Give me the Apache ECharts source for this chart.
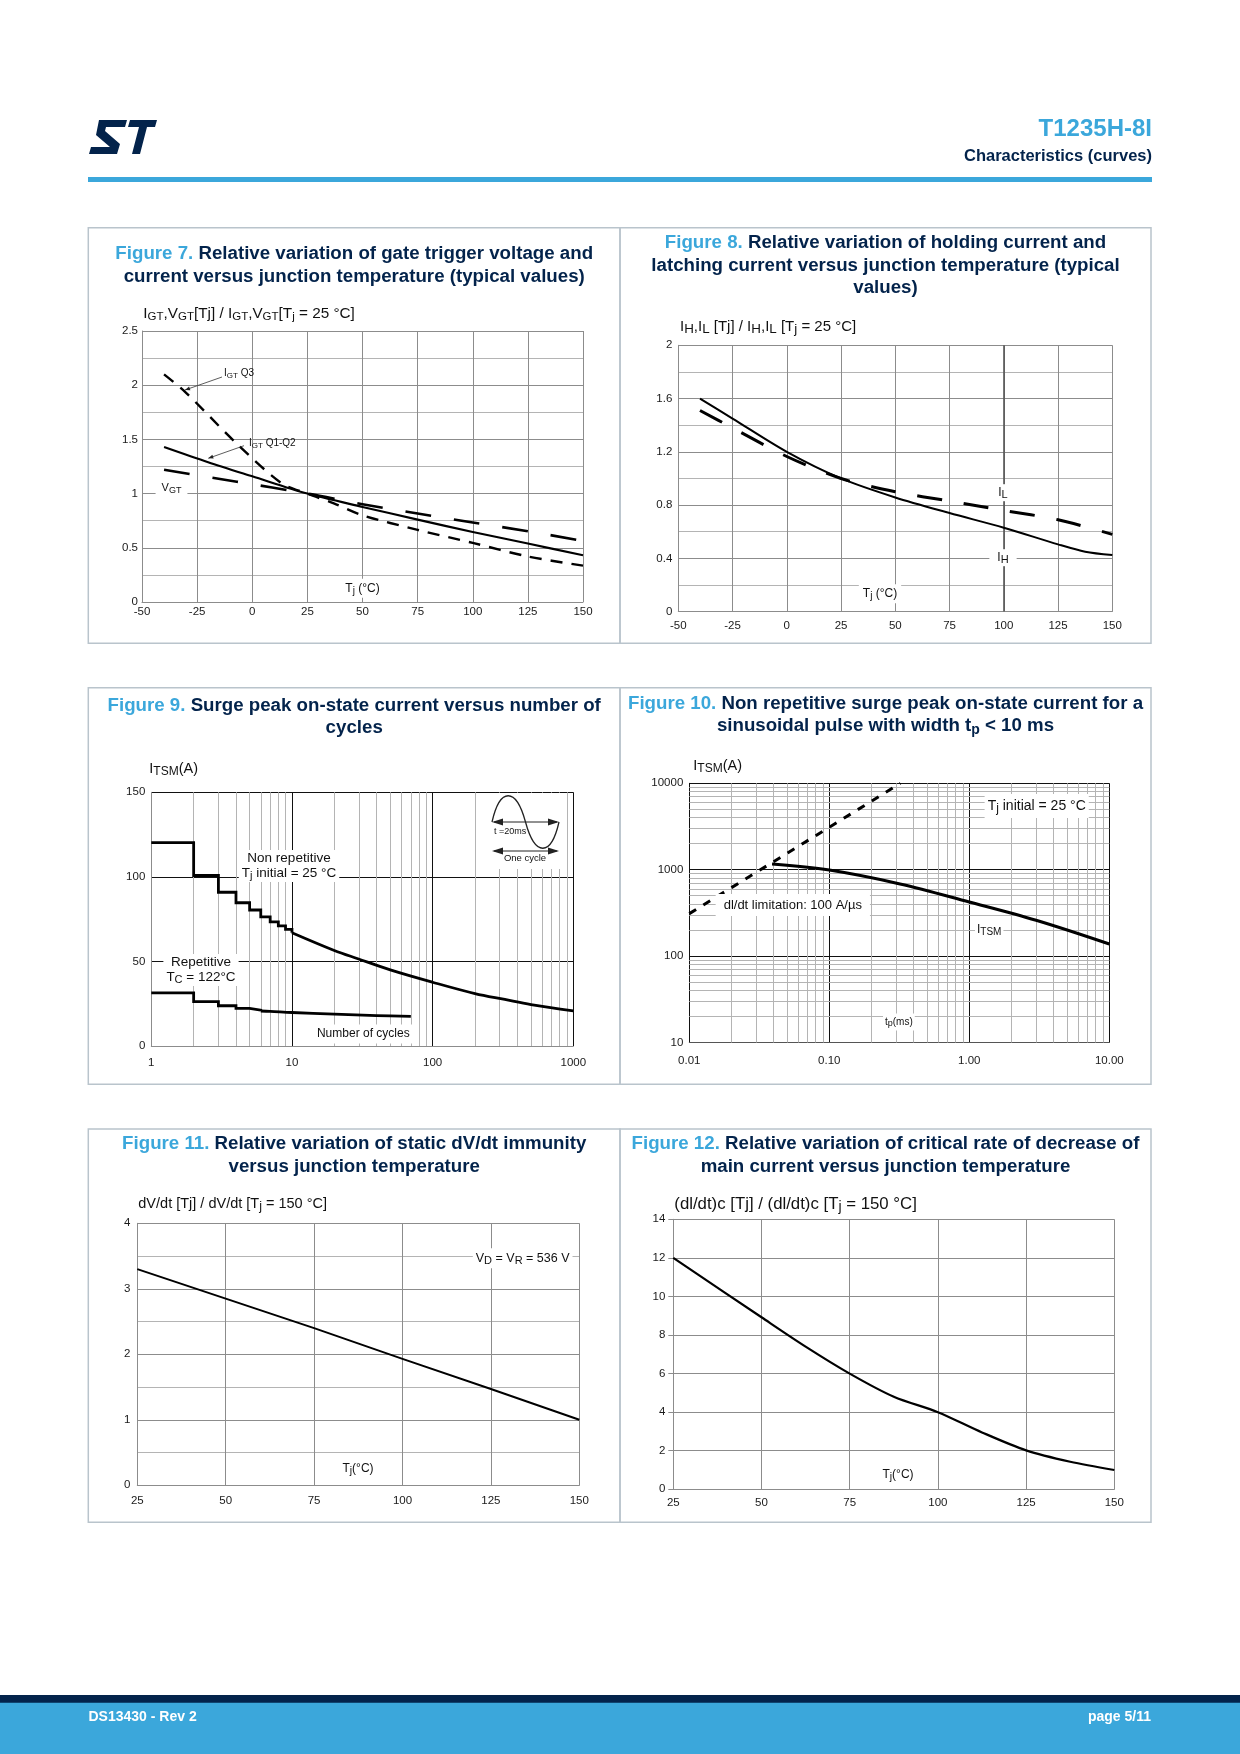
<!DOCTYPE html>
<html>
<head>
<meta charset="utf-8">
<title>T1235H-8I Characteristics (curves)</title>
<script src="https://cdn.jsdelivr.net/npm/echarts@6.0.0/dist/echarts.min.js"></script>
<style>
html,body{margin:0;padding:0;background:#ffffff;}
#page{width:1240px;height:1754px;}
</style>
</head>
<body>
<div id="page"></div>
<script>
// ================= DATA =================
// Figure 7 : [Tj (°C), relative value]
const fig7IgtQ3   = [[-40,2.1],[-30,1.93],[-8,1.48],[13,1.1],[25,1.0],[37,0.91],[50,0.8],[75,0.665],[100,0.545],[125,0.42],[150,0.335]];
const fig7IgtQ1Q2 = [[-40,1.43],[-20,1.29],[0,1.16],[25,1.0],[50,0.877],[75,0.76],[100,0.646],[125,0.539],[150,0.431]];
const fig7Vgt     = [[-40,1.22],[-7,1.11],[25,1.0],[50,0.902],[75,0.816],[100,0.733],[125,0.653],[150,0.563]];
// Figure 8 : [Tj (°C), relative value]
const fig8IH = [[-40,1.6],[-25,1.45],[0,1.2],[25,1.0],[50,0.857],[75,0.74],[100,0.63],[125,0.505],[137.5,0.45],[150,0.425]];
const fig8IL = [[-40,1.51],[-25,1.38],[0,1.165],[25,1.0],[50,0.9],[75,0.83],[100,0.76],[125,0.69],[150,0.58]];
// Figure 9 : [number of cycles, ITSM (A)]
const fig9NonRepSteps = [[1,120.2],[2,100.8],[3,90.9],[4,84.7],[5,80.4],[6,76.4],[7,73.4],[8,71],[9,68.9],[10,67]];
const fig9NonRepCurve = [[10,67],[20,56.5],[29.4,51.6],[50,45],[100,37.7],[200,31],[326,27.5],[500,24.5],[1000,20.8]];
const fig9RepSteps    = [[1,31.4],[2,26.2],[3,23.8],[4,22.2],[5,21.2],[6,20.7]];
const fig9RepCurve    = [[6,20.7],[7,20.5],[10,19.8],[20,18.9],[40,18],[70,17.5]];
// Figure 10 : [tp (ms), ITSM (A)]
const fig10Itsm = [[0.039,1165],[0.1,990],[0.32,684],[1,423],[3,260],[10,138]];
const fig10DiDt = [[0.01,310],[0.1,3100],[0.322,10000]];
// Figure 11 : [Tj (°C), relative dV/dt]
const fig11DvDt = [[25,3.3],[50,2.85],[75,2.4],[100,1.93],[125,1.47],[150,1.0]];
// Figure 12 : [Tj (°C), relative (dI/dt)c]
const fig12DiDtc = [[25,12],[50,8.92],[62.5,7.4],[75,6.0],[87.5,4.8],[100,4.0],[112.5,2.95],[125,2.02],[137.5,1.43],[150,1.0]];

// Tick labels of the log axes
const fig9XLabels  = ['1','10','100','1000'];
const fig10XLabels = ['0.01','0.10','1.00','10.00'];
const fig10YLabels = ['10','100','1000','10000'];
// Minor grid values of the log axes
const fig9MinorX  = [2,3,4,5,6,7,8,9,20,30,40,50,60,70,80,90,200,300,400,500,600,700,800,900];
const fig10MinorX = [0.02,0.03,0.04,0.05,0.06,0.07,0.08,0.09,0.2,0.3,0.4,0.5,0.6,0.7,0.8,0.9,2,3,4,5,6,7,8,9];
const fig10MinorY = [20,30,40,50,60,70,80,90,200,300,400,500,600,700,800,900,2000,3000,4000,5000,6000,7000,8000,9000];
const fig8DarkX   = [100];

// ================= STYLE =================
const FF = '"Liberation Sans", Arial, Helvetica, sans-serif';
const NAVY = '#03234b';
const BLUE = '#3ba7db';
const GRID = '#8c8c8c';
const GRID_MINOR = '#b4b4b4';
const BLACK = '#111111';
const INK = '#000000';

const chart = echarts.init(document.getElementById('page'), null, {renderer:'canvas', width:1240, height:1754});

function lab(margin, extra) {
  return Object.assign({color:'#1a1a1a', fontFamily:FF, fontSize:11.5, margin:margin}, extra || {});
}
function valAxis(gi, min, max, interval, o) {
  o = o || {};
  return {
    type:'value', gridIndex:gi, min:min, max:max, interval:interval,
    axisLine:{show:true, onZero:false, lineStyle:{color:o.axisColor || GRID, width:1}},
    axisTick:o.tick ? {show:true, inside:false, length:5, lineStyle:{color:GRID, width:1}} : {show:false},
    axisLabel:lab(o.margin, o.label),
    splitLine:{show:true, showMinLine:o.showMin !== false, lineStyle:{color:o.splitColor || GRID, width:1}},
    minorTick:{show:false, splitNumber:o.minor || 2},
    minorSplitLine:{show:!!o.minor, lineStyle:{color:GRID_MINOR, width:1}}
  };
}
function logAxis(gi, min, max, labels, o) {
  o = o || {};
  return {
    type:'log', logBase:10, gridIndex:gi, min:min, max:max,
    axisLine:{show:true, onZero:false, lineStyle:{color:o.axisColor || BLACK, width:1}},
    axisTick:{show:false},
    axisLabel:lab(o.margin, Object.assign({
      formatter:function (v) { return labels[Math.round(Math.log10(v) - Math.log10(min))]; }
    }, o.label || {})),
    splitLine:{show:true, showMinLine:o.showMin !== false, lineStyle:{color:BLACK, width:1}},
    minorTick:{show:false}, minorSplitLine:{show:false}
  };
}
const yLab = {padding:[0,0,5,0]};

function curve(idx, data, width, dash, smooth, extra) {
  return Object.assign({
    type:'line', xAxisIndex:idx, yAxisIndex:idx, data:data,
    showSymbol:false, symbol:'none', smooth:smooth || false,
    z:10, silent:true, animation:false, clip:true,
    lineStyle:{color:INK, width:width, type:dash || 'solid', cap:'butt', join:'miter'}
  }, extra || {});
}
function gridLines(idx, xs, ys, color, width) {
  const data = [];
  (xs || []).forEach(function (v) { data.push({xAxis:v}); });
  (ys || []).forEach(function (v) { data.push({yAxis:v}); });
  return {
    type:'line', xAxisIndex:idx, yAxisIndex:idx, data:[], z:1, silent:true, animation:false,
    markLine:{z:1, silent:true, symbol:['none','none'], animation:false, precision:6,
      label:{show:false}, emphasis:{disabled:true},
      lineStyle:{color:color, width:width, type:'solid'}, data:data}
  };
}

// ---------- graphic helpers ----------
function T(x, y, text, o) {
  o = o || {};
  const fs = o.fs || 14;
  const sub = o.sub || Math.round(fs * 0.78);
  const weight = o.bold ? 'bold' : 'normal';
  const fill = o.fill || '#111';
  const style = {
    text:text, fill:fill, fontFamily:FF, fontSize:fs, fontWeight:weight,
    align:o.align || 'left', verticalAlign:o.va || 'middle',
    lineHeight:o.lh || Math.round(fs * 1.25),
    rich:{
      s:{fill:fill, fontFamily:FF, fontSize:sub, fontWeight:weight, lineHeight:Math.round(sub * 0.75), verticalAlign:'bottom'}
    }
  };
  if (o.bg) { style.backgroundColor = '#ffffff'; style.padding = o.pad || [2,3]; }
  return {type:'text', x:x, y:y, z:o.z || 20, silent:true, style:style};
}
function titleText(cx, yTop, text) {
  const base = {fontFamily:FF, fontSize:18.7, fontWeight:'bold', lineHeight:22.4};
  return {type:'text', x:cx, y:yTop, z:20, silent:true, style:{
    text:text, fontFamily:FF, fontSize:18.7, fontWeight:'bold', lineHeight:22.4, fill:NAVY,
    align:'center', verticalAlign:'top',
    rich:{
      a:Object.assign({fill:BLUE}, base),
      b:Object.assign({fill:NAVY}, base),
      bs:{fill:NAVY, fontFamily:FF, fontSize:14, fontWeight:'bold', lineHeight:10, verticalAlign:'bottom'}
    }
  }};
}
function rect(x, y, w, h, o) {
  o = o || {};
  return {type:'rect', z:o.z || 0, silent:true, shape:{x:x, y:y, width:w, height:h},
    style:{fill:o.fill || 'none', stroke:o.stroke || null, lineWidth:o.lw || 0}};
}
function seg(x1, y1, x2, y2, color, w, z) {
  return {type:'line', z:z || 20, silent:true, shape:{x1:x1, y1:y1, x2:x2, y2:y2},
    style:{stroke:color, lineWidth:w}};
}
function head(tx, ty, fx, fy, len, half, z) {
  const dx = tx - fx, dy = ty - fy, L = Math.hypot(dx, dy);
  const ux = dx / L, uy = dy / L, bx = tx - ux * len, by = ty - uy * len;
  return {type:'polygon', z:z || 20, silent:true,
    shape:{points:[[tx,ty],[bx - uy * half, by + ux * half],[bx + uy * half, by - ux * half]]},
    style:{fill:'#222'}};
}
function poly(points, fill, ox, oy) {
  return {type:'polygon', z:20, silent:true,
    shape:{points:points.map(function (p) { return [p[0] + ox, p[1] + oy]; })}, style:{fill:fill}};
}

// ---------- page decoration & texts ----------
const logoS = [[10,0],[38,0],[36,7],[17,7],[16,11],[31,24],[28,34],[0,34],[2,27],[21,27],[7,15]];
const logoT = [[41,0],[68,0],[66,7],[58,7],[51,34],[43,34],[50,7],[39,7]];

const graphics = [
  // header
  poly(logoS, NAVY, 89, 120),
  poly(logoT, NAVY, 89, 120),
  T(1152, 129.7, 'T1235H-8I', {fs:24, bold:true, fill:BLUE, align:'right'}),
  T(1152, 156.5, 'Characteristics (curves)', {fs:16.5, bold:true, fill:NAVY, align:'right'}),
  rect(88, 177, 1064, 5, {fill:BLUE}),
  // boxes
  rect(88.3, 227.7, 531.7, 415.6, {stroke:'#b9c4cc', lw:1.5}),
  rect(620, 227.7, 531, 415.6, {stroke:'#b9c4cc', lw:1.5}),
  rect(88.3, 687.7, 531.7, 396.6, {stroke:'#b9c4cc', lw:1.5}),
  rect(620, 687.7, 531, 396.6, {stroke:'#b9c4cc', lw:1.5}),
  rect(88.3, 1129, 531.7, 393.3, {stroke:'#b9c4cc', lw:1.5}),
  rect(620, 1129, 531, 393.3, {stroke:'#b9c4cc', lw:1.5}),
  // footer
  rect(0, 1695, 1240, 8, {fill:NAVY}),
  rect(0, 1702.7, 1240, 52, {fill:BLUE}),
  T(88.5, 1717, 'DS13430 - Rev 2', {fs:14, bold:true, fill:'#ffffff'}),
  T(1151, 1717, 'page 5/11', {fs:14, bold:true, fill:'#ffffff', align:'right'}),

  // titles
  titleText(354.2, 243.1, '{a|Figure 7.}{b| Relative variation of gate trigger voltage and}\n{b|current versus junction temperature (typical values)}'),
  titleText(885.5, 232.1, '{a|Figure 8.}{b| Relative variation of holding current and}\n{b|latching current versus junction temperature (typical}\n{b|values)}'),
  titleText(354.2, 694.5, '{a|Figure 9.}{b| Surge peak on-state current versus number of}\n{b|cycles}'),
  titleText(885.5, 692.5, '{a|Figure 10.}{b| Non repetitive surge peak on-state current for a}\n{b|sinusoidal pulse with width t}{bs|p}{b| < 10 ms}'),
  titleText(354.2, 1133.1, '{a|Figure 11.}{b| Relative variation of static dV/dt immunity}\n{b|versus junction temperature}'),
  titleText(885.5, 1133.1, '{a|Figure 12.}{b| Relative variation of critical rate of decrease of}\n{b|main current versus junction temperature}'),

  // Figure 7 texts
  T(143.3, 313.3, 'I{s|GT},V{s|GT}[Tj] / I{s|GT},V{s|GT}[T{s|j} = 25 °C]', {fs:15.3, sub:11.5}),
  T(224, 373.3, 'I{s|GT} Q3', {fs:10, sub:8}),
  seg(222, 377, 185, 390, '#333', 0.8),
  head(185, 390, 222, 377, 5, 2),
  T(249, 443.3, 'I{s|GT} Q1-Q2', {fs:10, sub:8}),
  seg(244, 445.7, 208.3, 458.3, '#333', 0.8),
  head(208.3, 458.3, 244, 445.7, 5, 2),
  T(171.5, 489.5, 'V{s|GT}', {fs:11, sub:9, align:'center', bg:true, pad:[2,6,5,6]}),
  T(362.5, 588.3, 'T{s|j} (°C)', {fs:12, sub:10, align:'center', bg:true, pad:[2,4]}),

  // Figure 8 texts
  T(680, 326.7, 'I{s|H},I{s|L} [Tj] / I{s|H},I{s|L} [T{s|j} = 25 °C]', {fs:15, sub:13.4}),
  T(1003, 492.7, 'I{s|L}', {fs:12, sub:11, align:'center', bg:true, pad:[1,3]}),
  T(1003, 557.7, 'I{s|H}', {fs:12, sub:11, align:'center', bg:true, pad:[1,8]}),
  T(880, 593.7, 'T{s|j} (°C)', {fs:12, sub:10, align:'center', bg:true, pad:[2,4]}),

  // Figure 9 texts
  T(149.3, 769, 'I{s|TSM}(A)', {fs:14.5, sub:12}),
  T(289, 866, 'Non repetitive\nT{s|j} initial = 25 °C', {fs:13.5, sub:11, lh:15, align:'center', bg:true, pad:[1,3]}),
  T(201, 970, 'Repetitive\nT{s|C} = 122°C', {fs:13.5, sub:11, lh:15, align:'center', bg:true, pad:[1,3]}),
  T(363.3, 1034, 'Number of cycles', {fs:12, align:'center', bg:true, pad:[2,3]}),
  // sinusoid icon
  rect(488, 793, 73, 76, {fill:'#ffffff', z:15}),
  {type:'bezierCurve', z:20, silent:true, shape:{x1:492, y1:822, cpx1:500, cpy1:787, cpx2:516, cpy2:787, x2:525.5, y2:822}, style:{stroke:'#222', lineWidth:1.3, fill:'none'}},
  {type:'bezierCurve', z:20, silent:true, shape:{x1:525.5, y1:822, cpx1:535, cpy1:857, cpx2:551, cpy2:857, x2:559, y2:822}, style:{stroke:'#222', lineWidth:1.3, fill:'none'}},
  seg(494, 822, 557, 822, '#222', 1),
  head(492, 822, 520, 822, 11, 3.5),
  head(559, 822, 530, 822, 11, 3.5),
  seg(494, 851, 557, 851, '#222', 1),
  head(492, 851, 520, 851, 11, 3.5),
  head(559, 851, 530, 851, 11, 3.5),
  T(494, 832, 't =20ms', {fs:9}),
  T(525, 858, 'One cycle', {fs:9.5, align:'center'}),

  // Figure 10 texts
  T(693.3, 765.7, 'I{s|TSM}(A)', {fs:14.5, sub:12}),
  T(1036.7, 806, 'T{s|j} initial = 25 °C', {fs:14, sub:12, align:'center', bg:true, pad:[3,3]}),
  T(792.8, 905, 'dl/dt limitation: 100 A/µs', {fs:13, align:'center', bg:true, pad:[3,8]}),
  T(975, 930, 'I{s|TSM}', {fs:12, sub:10, bg:true, pad:[2,2]}),
  T(883, 1022, 't{s|p}(ms)', {fs:10, sub:9, bg:true, pad:[2,2]}),

  // Figure 11 texts
  T(138.3, 1204.3, 'dV/dt [Tj] / dV/dt [T{s|j} = 150 °C]', {fs:14.5, sub:12.5}),
  T(572.5, 1258.3, 'V{s|D} = V{s|R} = 536 V', {fs:12.5, sub:11, align:'right', bg:true, pad:[2,3]}),
  T(358, 1469, 'T{s|j}(°C)', {fs:12, sub:10.5, align:'center', bg:true, pad:[2,3]}),

  // Figure 12 texts
  T(674.3, 1204, '(dl/dt)c [Tj] / (dl/dt)c [T{s|j} = 150 °C]', {fs:16.8, sub:14}),
  T(898, 1475, 'T{s|j}(°C)', {fs:12, sub:10.5, align:'center', bg:true, pad:[2,3]})
];

const option = {
  animation:false,
  backgroundColor:'#ffffff',
  grid:[
    {left:142, top:331, width:441, height:271, outerBoundsMode:'none'},
    {left:678.3, top:345.3, width:434, height:266.3, outerBoundsMode:'none'},
    {left:151.3, top:792.3, width:422, height:253.7, outerBoundsMode:'none'},
    {left:689.3, top:783.3, width:420, height:259.2, outerBoundsMode:'none'},
    {left:137.3, top:1223.3, width:442, height:262, outerBoundsMode:'none'},
    {left:673.3, top:1219.3, width:441, height:270, outerBoundsMode:'none'}
  ],
  xAxis:[
    valAxis(0, -50, 150, 25, {margin:4}),
    valAxis(1, -50, 150, 25, {margin:8}),
    logAxis(2, 1, 1000, fig9XLabels, {margin:11, axisColor:GRID, showMin:false}),
    logAxis(3, 0.01, 10, fig10XLabels, {margin:12, axisColor:'#555'}),
    valAxis(4, 25, 150, 25, {margin:10}),
    valAxis(5, 25, 150, 25, {margin:8})
  ],
  yAxis:[
    valAxis(0, 0, 2.5, 0.5, {margin:4, minor:2, label:yLab}),
    valAxis(1, 0, 2, 0.4, {margin:6, minor:2, label:yLab}),
    valAxis(2, 0, 150, 50, {margin:6, splitColor:BLACK, showMin:false, label:yLab}),
    logAxis(3, 10, 10000, fig10YLabels, {margin:6, axisColor:BLACK, label:yLab}),
    valAxis(4, 0, 4, 1, {margin:7, minor:2, label:yLab}),
    valAxis(5, 0, 14, 2, {margin:8, tick:true, label:{padding:[0,0,7,0]}})
  ],
  series:[
    // minor / special grid lines
    gridLines(1, fig8DarkX, null, '#555555', 1.6),
    gridLines(2, fig9MinorX, null, GRID_MINOR, 1),
    gridLines(3, fig10MinorX, fig10MinorY, GRID_MINOR, 1),
    // Figure 7
    curve(0, fig7IgtQ3, 2.4, [12,9], 0.3),
    curve(0, fig7IgtQ1Q2, 2.1, 'solid', 0.3),
    curve(0, fig7Vgt, 2.6, [26,23], 0.3),
    // Figure 8
    curve(1, fig8IH, 2, 'solid', 0.3),
    curve(1, fig8IL, 3, [25,22], 0.3),
    // Figure 9
    curve(2, fig9NonRepSteps, 2.8, 'solid', false, {step:'end'}),
    curve(2, fig9NonRepCurve, 2.8, 'solid', 0.35),
    curve(2, fig9RepSteps, 2.8, 'solid', false, {step:'end'}),
    curve(2, fig9RepCurve, 2.8, 'solid', 0.35),
    // Figure 10
    curve(3, fig10DiDt, 3, [8,8.5], false),
    curve(3, fig10Itsm, 3, 'solid', 0.35),
    // Figure 11
    curve(4, fig11DvDt, 2, 'solid', false),
    // Figure 12
    curve(5, fig12DiDtc, 2.2, 'solid', 0.3)
  ],
  graphic:{elements:graphics}
};
chart.setOption(option);
</script>
</body>
</html>
